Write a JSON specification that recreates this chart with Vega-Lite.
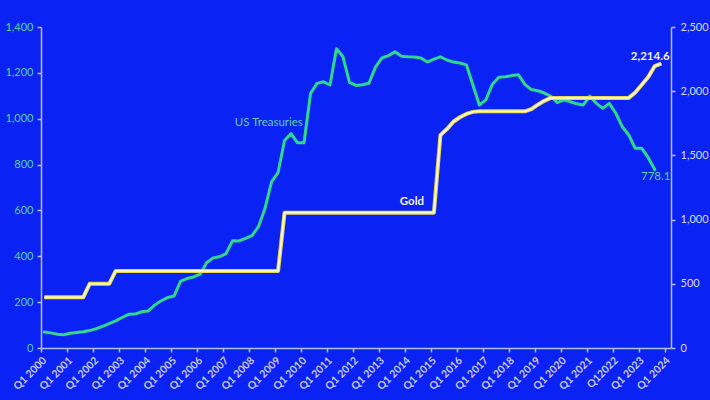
{
  "$schema": "https://vega.github.io/schema/vega-lite/v6.json",
  "width": 630,
  "height": 321,
  "autosize": {"type": "none"},
  "padding": {"left": 41, "top": 27, "right": 39, "bottom": 52},
  "background": "#0b22f4",
  "config": {
    "view": {"stroke": null},
    "font": "Lato",
    "axis": {"grid": false, "domainColor": "#b8bce8", "tickColor": "#b8bce8", "tickSize": 4, "domainWidth": 1.5, "tickWidth": 1.5, "labelFont": "Lato", "labelFontSize": 11, "title": null}
  },
  "datasets": {
    "series": [
      {"t": 2000.125, "ust": 70, "gold": 395},
      {"t": 2000.375, "ust": 66, "gold": 395},
      {"t": 2000.625, "ust": 60, "gold": 395},
      {"t": 2000.875, "ust": 58, "gold": 395},
      {"t": 2001.125, "ust": 64, "gold": 395},
      {"t": 2001.375, "ust": 68, "gold": 395},
      {"t": 2001.625, "ust": 71, "gold": 395},
      {"t": 2001.875, "ust": 76, "gold": 500},
      {"t": 2002.125, "ust": 84, "gold": 500},
      {"t": 2002.375, "ust": 94, "gold": 500},
      {"t": 2002.625, "ust": 106, "gold": 500},
      {"t": 2002.875, "ust": 118, "gold": 600},
      {"t": 2003.125, "ust": 133, "gold": 600},
      {"t": 2003.375, "ust": 147, "gold": 600},
      {"t": 2003.625, "ust": 148, "gold": 600},
      {"t": 2003.875, "ust": 158, "gold": 600},
      {"t": 2004.125, "ust": 161, "gold": 600},
      {"t": 2004.375, "ust": 187, "gold": 600},
      {"t": 2004.625, "ust": 206, "gold": 600},
      {"t": 2004.875, "ust": 220, "gold": 600},
      {"t": 2005.125, "ust": 227, "gold": 600},
      {"t": 2005.375, "ust": 292, "gold": 600},
      {"t": 2005.625, "ust": 303, "gold": 600},
      {"t": 2005.875, "ust": 310, "gold": 600},
      {"t": 2006.125, "ust": 322, "gold": 600},
      {"t": 2006.375, "ust": 372, "gold": 600},
      {"t": 2006.625, "ust": 393, "gold": 600},
      {"t": 2006.875, "ust": 398, "gold": 600},
      {"t": 2007.125, "ust": 412, "gold": 600},
      {"t": 2007.375, "ust": 468, "gold": 600},
      {"t": 2007.625, "ust": 467, "gold": 600},
      {"t": 2007.875, "ust": 478, "gold": 600},
      {"t": 2008.125, "ust": 490, "gold": 600},
      {"t": 2008.375, "ust": 530, "gold": 600},
      {"t": 2008.625, "ust": 610, "gold": 600},
      {"t": 2008.875, "ust": 725, "gold": 600},
      {"t": 2009.125, "ust": 765, "gold": 600},
      {"t": 2009.375, "ust": 905, "gold": 1054},
      {"t": 2009.625, "ust": 935, "gold": 1054},
      {"t": 2009.875, "ust": 895, "gold": 1054},
      {"t": 2010.125, "ust": 895, "gold": 1054},
      {"t": 2010.375, "ust": 1110, "gold": 1054},
      {"t": 2010.625, "ust": 1154, "gold": 1054},
      {"t": 2010.875, "ust": 1161, "gold": 1054},
      {"t": 2011.125, "ust": 1147, "gold": 1054},
      {"t": 2011.375, "ust": 1305, "gold": 1054},
      {"t": 2011.625, "ust": 1270, "gold": 1054},
      {"t": 2011.875, "ust": 1158, "gold": 1054},
      {"t": 2012.125, "ust": 1145, "gold": 1054},
      {"t": 2012.375, "ust": 1148, "gold": 1054},
      {"t": 2012.625, "ust": 1155, "gold": 1054},
      {"t": 2012.875, "ust": 1225, "gold": 1054},
      {"t": 2013.125, "ust": 1265, "gold": 1054},
      {"t": 2013.375, "ust": 1275, "gold": 1054},
      {"t": 2013.625, "ust": 1292, "gold": 1054},
      {"t": 2013.875, "ust": 1272, "gold": 1054},
      {"t": 2014.125, "ust": 1270, "gold": 1054},
      {"t": 2014.375, "ust": 1269, "gold": 1054},
      {"t": 2014.625, "ust": 1265, "gold": 1054},
      {"t": 2014.875, "ust": 1247, "gold": 1054},
      {"t": 2015.125, "ust": 1260, "gold": 1054},
      {"t": 2015.375, "ust": 1270, "gold": 1658},
      {"t": 2015.625, "ust": 1256, "gold": 1705},
      {"t": 2015.875, "ust": 1247, "gold": 1762},
      {"t": 2016.125, "ust": 1243, "gold": 1797},
      {"t": 2016.375, "ust": 1235, "gold": 1823},
      {"t": 2016.625, "ust": 1147, "gold": 1839},
      {"t": 2016.875, "ust": 1060, "gold": 1843},
      {"t": 2017.125, "ust": 1082, "gold": 1843},
      {"t": 2017.375, "ust": 1150, "gold": 1843},
      {"t": 2017.625, "ust": 1181, "gold": 1843},
      {"t": 2017.875, "ust": 1183, "gold": 1843},
      {"t": 2018.125, "ust": 1188, "gold": 1843},
      {"t": 2018.375, "ust": 1192, "gold": 1843},
      {"t": 2018.625, "ust": 1150, "gold": 1843},
      {"t": 2018.875, "ust": 1127, "gold": 1860},
      {"t": 2019.125, "ust": 1122, "gold": 1895},
      {"t": 2019.375, "ust": 1112, "gold": 1925},
      {"t": 2019.625, "ust": 1098, "gold": 1948},
      {"t": 2019.875, "ust": 1070, "gold": 1948},
      {"t": 2020.125, "ust": 1082, "gold": 1948},
      {"t": 2020.375, "ust": 1074, "gold": 1948},
      {"t": 2020.625, "ust": 1065, "gold": 1948},
      {"t": 2020.875, "ust": 1060, "gold": 1948},
      {"t": 2021.125, "ust": 1099, "gold": 1948},
      {"t": 2021.375, "ust": 1067, "gold": 1948},
      {"t": 2021.625, "ust": 1045, "gold": 1948},
      {"t": 2021.875, "ust": 1067, "gold": 1948},
      {"t": 2022.125, "ust": 1024, "gold": 1948},
      {"t": 2022.375, "ust": 965, "gold": 1948},
      {"t": 2022.625, "ust": 929, "gold": 1948},
      {"t": 2022.875, "ust": 871, "gold": 1990},
      {"t": 2023.125, "ust": 871, "gold": 2050},
      {"t": 2023.375, "ust": 830, "gold": 2110},
      {"t": 2023.625, "ust": 778.1, "gold": 2196},
      {"t": 2023.875, "ust": null, "gold": 2214.6}
    ],
    "ustLabels": [
      {"t": 2008.77, "ust": 982, "label": "US Treasuries"},
      {"t": 2023.66, "ust": 746, "label": "778.1"}
    ],
    "goldLabels": [
      {"t": 2014.28, "gold": 1139, "label": "Gold"},
      {"t": 2023.45, "gold": 2265, "label": "2,214.6"}
    ]
  },
  "encoding": {
    "x": {
      "field": "t",
      "type": "quantitative",
      "scale": {"domain": [2000, 2024.25], "nice": false, "zero": false},
      "axis": {
        "values": [2000, 2001, 2002, 2003, 2004, 2005, 2006, 2007, 2008, 2009, 2010, 2011, 2012, 2013, 2014, 2015, 2016, 2017, 2018, 2019, 2020, 2021, 2022, 2023, 2024],
        "labelExpr": "datum.value == 2022 ? 'Q12022' : 'Q1 ' + datum.value",
        "labelAngle": -45,
        "labelColor": "#c9cbf2",
        "labelFontSize": 10.5,
        "labelFontWeight": "bold",
        "labelPadding": 3,
        "labelOverlap": false,
        "labelBound": false,
        "labelFlush": false
      }
    }
  },
  "layer": [
    {
      "encoding": {
        "y": {
          "field": "ust",
          "type": "quantitative",
          "scale": {"domain": [0, 1400], "nice": false},
          "axis": {
            "orient": "left",
            "values": [0, 200, 400, 600, 800, 1000, 1200, 1400],
            "labelExpr": "format(datum.value, ',')",
            "labelColor": "#52d39c",
            "labelPadding": 4,
            "labelFlush": false
          }
        }
      },
      "layer": [
        {
          "data": {"name": "series"},
          "mark": {"type": "line", "color": "#30d98a", "strokeWidth": 3, "strokeJoin": "round", "strokeCap": "round"}
        },
        {
          "data": {"name": "ustLabels"},
          "mark": {"type": "text", "color": "#5cd0b0", "fontSize": 11.5, "font": "Lato"},
          "encoding": {
            "text": {"field": "label"}
          }
        }
      ]
    },
    {
      "encoding": {
        "y": {
          "field": "gold",
          "type": "quantitative",
          "scale": {"domain": [0, 2500], "nice": false},
          "axis": {
            "orient": "right",
            "values": [0, 500, 1000, 1500, 2000, 2500],
            "labelExpr": "format(datum.value, ',')",
            "labelColor": "#dcdcf0",
            "labelPadding": 5,
            "labelFlush": false
          }
        }
      },
      "layer": [
        {
          "data": {"name": "series"},
          "mark": {"type": "line", "color": "#e6d84e", "strokeWidth": 4, "strokeJoin": "round"}
        },
        {
          "data": {"name": "series"},
          "mark": {"type": "line", "color": "#fbf7dc", "strokeWidth": 1.8, "strokeJoin": "round"}
        },
        {
          "data": {"name": "goldLabels"},
          "mark": {"type": "text", "color": "#f2f0e4", "fontSize": 11.5, "fontWeight": "bold", "font": "Lato"},
          "encoding": {
            "text": {"field": "label"}
          }
        }
      ]
    }
  ],
  "resolve": {"scale": {"y": "independent"}}
}
